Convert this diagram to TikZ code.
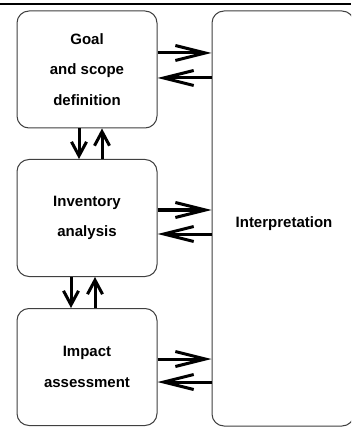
\documentclass[tikz,border=0pt]{standalone}
\usepackage{fontspec}
\setmainfont{Liberation Sans}
\usetikzlibrary{arrows.meta}
\tikzset{
  stage/.style = {draw = black!75, line width = 1pt, rounded corners = 12pt,
    minimum width = 140pt, minimum height = 117pt, align = center,
    font = \fontsize{15}{30.5}\selectfont\bfseries},
  hflow/.style = {line width = 3pt, -{Straight Barb[length = 30pt, width = 15pt, line width = 3pt]}},
  vflow/.style = {line width = 3pt, -{Straight Barb[length = 14pt, width = 15pt, line width = 3pt]}}
}
\begin{document}
\begin{tikzpicture}[x = 1pt, y = -1pt]
		\clip (0,0) rectangle (351,427);
		\fill[white] (0,0) rectangle (351,427);
		\draw[line width = 1.5pt] (0,4) -- (351,4);
		\node[stage] (goal) at (87,69.5) {Goal\\and scope\\definition};
		\node[stage] (inventory) at (87,218) {Inventory\\analysis};
		\node[stage] (impact) at (87,367) {Impact\\assessment};
		\node[stage, minimum width = 142pt, minimum height = 415pt] (interp) at (283,218.5) {};
		\node[font = \fontsize{15}{18}\selectfont\bfseries] (interplabel) at (284,224) {Interpretation};
		\draw[hflow] ([yshift = 16.5pt]goal.east) -- ([yshift = 16.5pt]goal.east -| interp.west);
		\draw[hflow] ([yshift = -8.5pt]goal.east -| interp.west) -- ([yshift = -8.5pt]goal.east);
		\draw[hflow] ([yshift = 8pt]inventory.east) -- ([yshift = 8pt]inventory.east -| interp.west);
		\draw[hflow] ([yshift = -16pt]inventory.east -| interp.west) -- ([yshift = -16pt]inventory.east);
		\draw[hflow] ([yshift = 8pt]impact.east) -- ([yshift = 8pt]impact.east -| interp.west);
		\draw[hflow] ([yshift = -15pt]impact.east -| interp.west) -- ([yshift = -15pt]impact.east);
		\draw[vflow] ([xshift = -8pt]goal.south) -- ([xshift = -8pt]goal.south |- inventory.north);
		\draw[vflow] ([xshift = 15pt]goal.south |- inventory.north) -- ([xshift = 15pt]goal.south);
		\draw[vflow] ([xshift = -16pt]inventory.south) -- ([xshift = -16pt]inventory.south |- impact.north);
		\draw[vflow] ([xshift = 8pt]inventory.south |- impact.north) -- ([xshift = 8pt]inventory.south);
		\end{tikzpicture}
\end{document}
